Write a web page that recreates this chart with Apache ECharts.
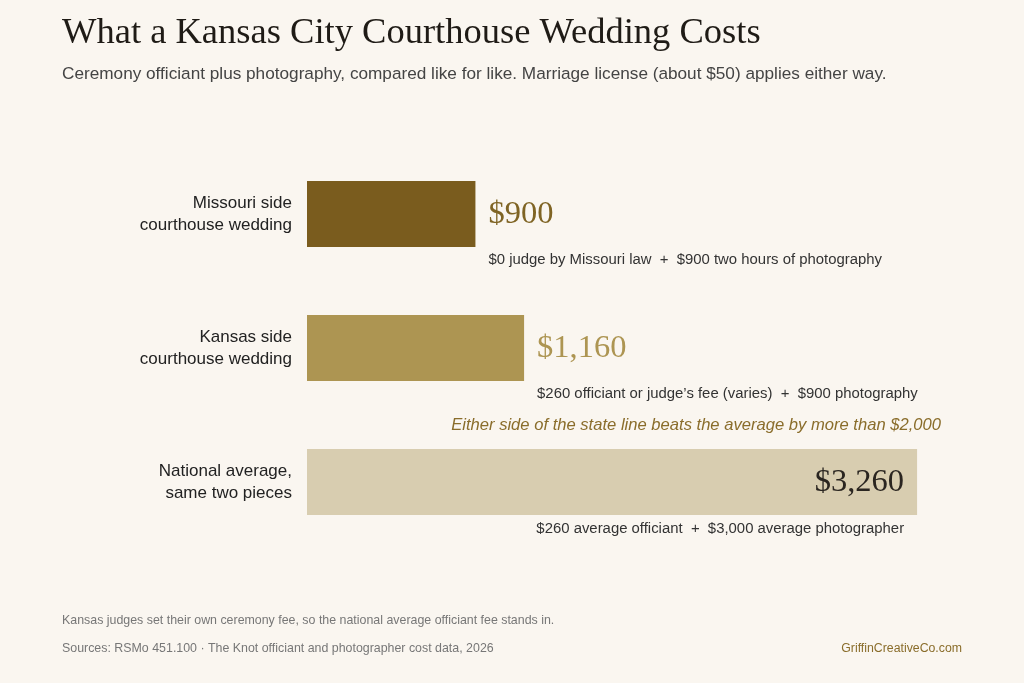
<!DOCTYPE html>
<html><head><meta charset="utf-8">
<script src="https://cdn.jsdelivr.net/npm/echarts@6/dist/echarts.min.js"></script>
<style>html,body{margin:0;padding:0;background:#faf6f0}#c{width:1024px;height:683px}</style>
</head><body><div id="c"></div>
<script>
const categories = ['Missouri side\ncourthouse wedding', 'Kansas side\ncourthouse wedding', 'National average,\nsame two pieces'];
const totals = [900, 1160, 3260];
const valueLabels = ['$900', '$1,160', '$3,260'];
const notes = ['$0 judge by Missouri law  +  $900 two hours of photography',
               '$260 officiant or judge\u2019s fee (varies)  +  $900 photography',
               '$260 average officiant  +  $3,000 average photographer'];
const barColors = ['#7a5c1e', '#ad9552', '#d8cdb0'];
const labelColors = ['#7f6424', '#ad9552', '#2a2520'];

const serif = '"Liberation Serif", "DejaVu Serif", serif';
const sans = '"Liberation Sans", Arial, sans-serif';

const chart = echarts.init(document.getElementById('c'));
chart.setOption({
  backgroundColor: '#faf6f0',
  animation: false,
  title: [
    {text: 'What a Kansas City Courthouse Wedding Costs', left: 62, top: 15, padding: 0,
     textStyle: {fontFamily: serif, fontSize: 36.5, fontWeight: 'normal', color: '#1f1b16'}},
    {text: 'Ceremony officiant plus photography, compared like for like. Marriage license (about $50) applies either way.', left: 62, top: 66, padding: 0,
     textStyle: {fontFamily: sans, fontSize: 17.2, fontWeight: 'normal', color: '#444'}},
    {text: 'Kansas judges set their own ceremony fee, so the national average officiant fee stands in.', left: 62, top: 615, padding: 0,
     textStyle: {fontFamily: sans, fontSize: 12.4, fontWeight: 'normal', color: '#777'}},
    {text: 'Sources: RSMo 451.100 \u00b7 The Knot officiant and photographer cost data, 2026', left: 62, top: 643, padding: 0,
     textStyle: {fontFamily: sans, fontSize: 12.4, fontWeight: 'normal', color: '#777'}},
    {text: 'GriffinCreativeCo.com', right: 62, top: 643, padding: 0,
     textStyle: {fontFamily: sans, fontSize: 12.3, fontWeight: 'normal', color: '#8a6d2b'}}
  ],
  graphic: [
    {type: 'text', right: 83, top: 417,
     style: {text: 'Either side of the state line beats the average by more than $2,000',
       font: 'italic 16.6px "Liberation Sans", Arial, sans-serif', fill: '#8a6d2b'}}
  ],
  grid: {left: 307, right: 62, top: 147, bottom: 134, containLabel: false},
  xAxis: {type: 'value', min: 0, max: 3500, show: false},
  yAxis: {type: 'category', data: categories, inverse: true,
    axisLine: {show: false}, axisTick: {show: false},
    axisLabel: {margin: 15, fontFamily: sans, fontSize: 17, color: '#222', lineHeight: 22, align: 'right'}},
  series: [
    {type: 'bar', barWidth: 66, silent: true,
     data: totals.map((v, i) => ({value: v, itemStyle: {color: barColors[i]},
       label: {show: true, position: i === 2 ? 'insideRight' : 'right', distance: 13, offset: [0, 0],
         formatter: valueLabels[i], fontFamily: serif, fontSize: 32.5, color: labelColors[i]}}))},
    {type: 'bar', barWidth: 66, barGap: '-100%', silent: true,
     data: totals.map((v, i) => ({value: v, itemStyle: {color: 'rgba(0,0,0,0)'},
       label: {show: true, position: i === 2 ? 'insideRight' : 'right', distance: 13, offset: [0, i === 2 ? 47 : 46],
         formatter: notes[i], fontFamily: sans, fontSize: 14.9, color: '#333'}}))}
  ]
});
</script></body></html>
